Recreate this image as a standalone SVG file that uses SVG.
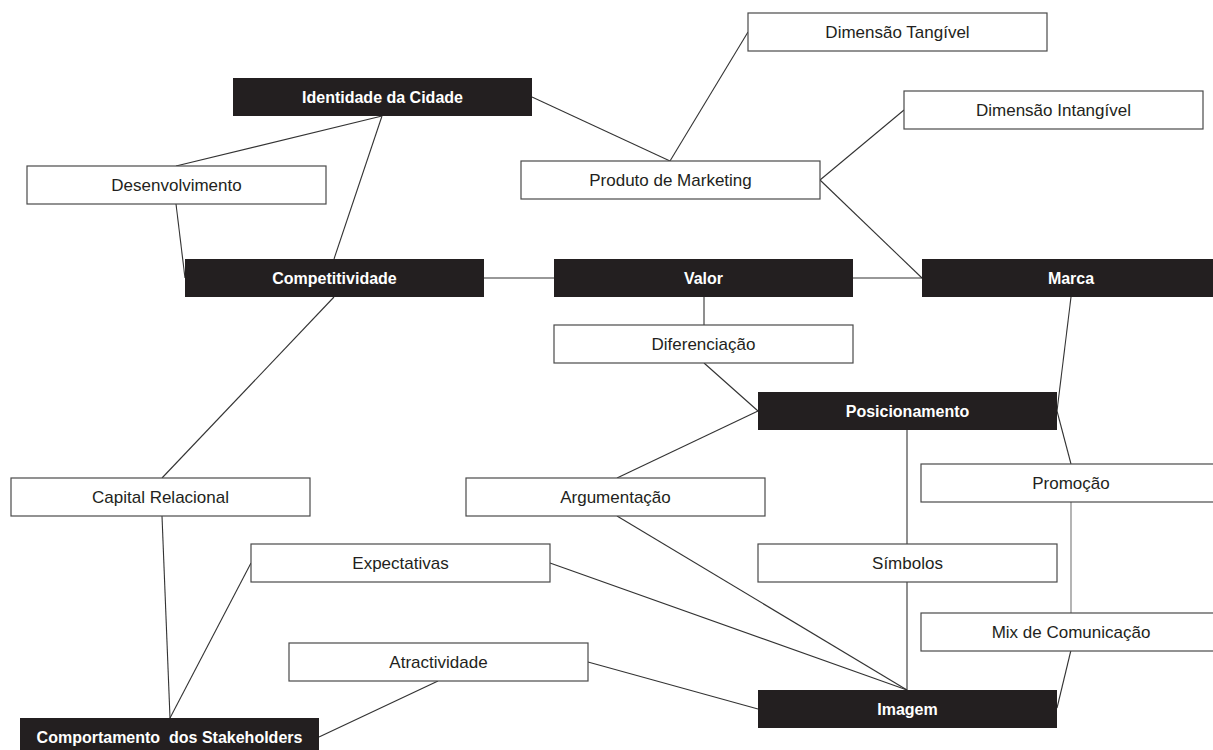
<svg xmlns="http://www.w3.org/2000/svg" width="1213" height="750" viewBox="0 0 1213 750">
<style>
.w rect{fill:#fff;stroke:#4a4a4a;stroke-width:1.2}
.b rect{fill:#231f20}
.w text{font-family:"Liberation Sans",Arial,sans-serif;font-size:17px;fill:#231f20;text-anchor:middle}
.b text{font-family:"Liberation Sans",Arial,sans-serif;font-size:16px;font-weight:bold;fill:#fff;text-anchor:middle;white-space:pre}
#connectors line{stroke:#333;stroke-width:1.1}
</style>
<rect width="1213" height="750" fill="#fff"/>
<g id="connectors">
<line x1="532" y1="97" x2="670" y2="161"/>
<line x1="670" y1="161" x2="748" y2="32"/>
<line x1="820" y1="180" x2="904" y2="110"/>
<line x1="820" y1="180" x2="922" y2="278"/>
<line x1="382" y1="116" x2="176" y2="166"/>
<line x1="382" y1="116" x2="334" y2="259"/>
<line x1="176" y1="204" x2="185" y2="278"/>
<line x1="483" y1="278" x2="554" y2="278"/>
<line x1="853" y1="278" x2="922" y2="278"/>
<line x1="704" y1="297" x2="704" y2="325"/>
<line x1="704" y1="363" x2="758" y2="411"/>
<line x1="1071" y1="297" x2="1057" y2="411"/>
<line x1="1057" y1="411" x2="1071" y2="464"/>
<line x1="758" y1="411" x2="617" y2="478"/>
<line x1="907" y1="430" x2="907" y2="544"/>
<line x1="907" y1="582" x2="907" y2="690"/>
<line x1="1071" y1="501" x2="1071" y2="613" style="stroke:#777"/>
<line x1="1071" y1="650" x2="1057" y2="708"/>
<line x1="334" y1="297" x2="162" y2="478"/>
<line x1="162" y1="516" x2="170" y2="718"/>
<line x1="251" y1="563" x2="170" y2="718"/>
<line x1="438" y1="681" x2="319" y2="737"/>
<line x1="617" y1="516" x2="907" y2="690"/>
<line x1="550" y1="563" x2="907" y2="690"/>
<line x1="588" y1="662" x2="758" y2="709"/>
</g>
<g id="n-tangivel" class="w"><rect x="748" y="13" width="299" height="38"/><text x="897.5" y="38">Dimensão Tangível</text></g>
<g id="n-intangivel" class="w"><rect x="904" y="91" width="299" height="38"/><text x="1053.5" y="116">Dimensão Intangível</text></g>
<g id="n-identidade" class="b"><rect x="233" y="78" width="299" height="38"/><text x="382.5" y="103">Identidade da Cidade</text></g>
<g id="n-produto" class="w"><rect x="521" y="161" width="299" height="38"/><text x="670.5" y="186">Produto de Marketing</text></g>
<g id="n-desenvolvimento" class="w"><rect x="27" y="166" width="299" height="38"/><text x="176.5" y="191">Desenvolvimento</text></g>
<g id="n-competitividade" class="b"><rect x="185" y="259" width="299" height="38"/><text x="334.5" y="284">Competitividade</text></g>
<g id="n-valor" class="b"><rect x="554" y="259" width="299" height="38"/><text x="703.5" y="284">Valor</text></g>
<g id="n-marca" class="b"><rect x="922" y="259" width="299" height="38"/><text x="1071" y="284">Marca</text></g>
<g id="n-diferenciacao" class="w"><rect x="554" y="325" width="299" height="38"/><text x="703.5" y="350">Diferenciação</text></g>
<g id="n-posicionamento" class="b"><rect x="758" y="392" width="299" height="38"/><text x="907.5" y="417">Posicionamento</text></g>
<g id="n-promocao" class="w"><rect x="921" y="464" width="299" height="38"/><text x="1071" y="489">Promoção</text></g>
<g id="n-capital" class="w"><rect x="11" y="478" width="299" height="38"/><text x="160.5" y="503">Capital Relacional</text></g>
<g id="n-argumentacao" class="w"><rect x="466" y="478" width="299" height="38"/><text x="615.5" y="503">Argumentação</text></g>
<g id="n-expectativas" class="w"><rect x="251" y="544" width="299" height="38"/><text x="400.5" y="569">Expectativas</text></g>
<g id="n-simbolos" class="w"><rect x="758" y="544" width="299" height="38"/><text x="907.5" y="569">Símbolos</text></g>
<g id="n-mix" class="w"><rect x="921" y="613" width="299" height="38"/><text x="1071" y="638">Mix de Comunicação</text></g>
<g id="n-atractividade" class="w"><rect x="289" y="643" width="299" height="38"/><text x="438.5" y="668">Atractividade</text></g>
<g id="n-imagem" class="b"><rect x="758" y="690" width="299" height="38"/><text x="907.5" y="715">Imagem</text></g>
<g id="n-comportamento" class="b"><rect x="20" y="718" width="299" height="38"/><text x="169.5" y="743">Comportamento  dos Stakeholders</text></g>
</svg>
